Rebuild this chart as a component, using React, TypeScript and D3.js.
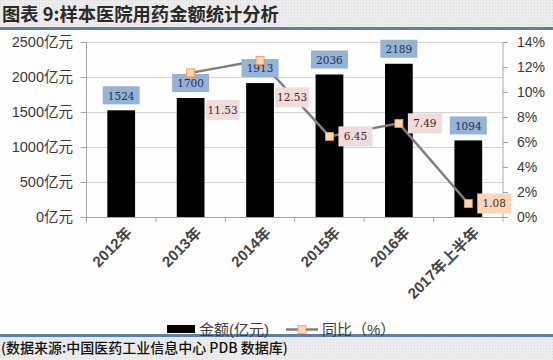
import React from "react";
import * as d3 from "d3";

const categories = ["2012年", "2013年", "2014年", "2015年", "2016年", "2017年上半年"];
const amounts = [1524, 1700, 1913, 2036, 2189, 1094];
const growth: (number | null)[] = [null, 11.53, 12.53, 6.45, 7.49, 1.08];
const leftTicks = [0, 500, 1000, 1500, 2000, 2500];
const rightTicks = [0, 2, 4, 6, 8, 10, 12, 14];
const growthLabelPlacement = ["right", "belowRight", "belowRight", "right", "right", "right"];
const growthLabelFill = ["#f2dcdb", "#f2dcdb", "#f2dcdb", "#f2dcdb", "#f2dcdb", "#fcd5b4"];

const W = 553, H = 360;
const M = { left: 86.5, right: 503, top: 42, bottom: 217 };
const CJK = "'Liberation Sans', 'Noto Sans CJK SC', sans-serif";

export default function App() {
  const x = d3.scaleBand<string>().domain(categories).range([M.left, M.right]).paddingInner(0.6).paddingOuter(0.3);
  const yL = d3.scaleLinear().domain([0, 2500]).range([M.bottom, M.top]);
  const yR = d3.scaleLinear().domain([0, 14]).range([M.bottom, M.top]);
  const cx = (c: string) => (x(c) ?? 0) + x.bandwidth() / 2;
  const step = x.step();
  const boundaries = d3.range(categories.length + 1).map((i) => M.left + i * step);

  const pts = categories
    .map((c, i) => ({ c, v: growth[i], i }))
    .filter((p) => p.v !== null) as { c: string; v: number; i: number }[];
  const line = d3.line<{ c: string; v: number }>().x((d) => cx(d.c)).y((d) => yR(d.v));

  return (
    <svg width={W} height={H} style={{ position: "absolute", left: 0, top: 0, background: "#fefefe" }}>
      <defs>
        <pattern id="dots" width="3" height="3" patternUnits="userSpaceOnUse">
          <rect width="3" height="3" fill="#ececec" />
          <rect width="1" height="1" fill="#dcdcdc" />
        </pattern>
      </defs>
      {/* header */}
      <rect x={0} y={0} width={W} height={27} fill="url(#dots)" />
      <text x={2} y={20.5} fontFamily="'Noto Sans CJK SC', sans-serif" fontWeight={700} fontSize={18.3} fill="#2a2a2a">
        图表 9:样本医院用药金额统计分析
      </text>
      <rect x={0} y={27} width={W} height={3} fill="#5b7fae" />
      {/* footer */}
      <rect x={0} y={335} width={W} height={25} fill="url(#dots)" />
      <rect x={0} y={334} width={W} height={3} fill="#5b7fae" />
      <text x={1} y={353} fontFamily="'Noto Sans CJK SC', sans-serif" fontSize={14} fontWeight={500} fill="#111">
        (数据来源:中国医药工业信息中心 PDB 数据库)
      </text>

      {/* grid */}
      {leftTicks.slice(1).map((t) => (
        <line key={t} x1={M.left} x2={M.right} y1={Math.round(yL(t)) + 0.5} y2={Math.round(yL(t)) + 0.5} stroke="#d4d4d4" />
      ))}
      {/* axes */}
      <line x1={M.left} x2={M.left} y1={M.top} y2={M.bottom} stroke="#a6a6a6" />
      <line x1={M.right} x2={M.right} y1={M.top} y2={M.bottom} stroke="#a6a6a6" />
      {leftTicks.map((t) => (
        <g key={t}>
          <line x1={M.left - 6} x2={M.left} y1={Math.round(yL(t)) + 0.5} y2={Math.round(yL(t)) + 0.5} stroke="#a6a6a6" />
          <text x={73} y={yL(t)} dy="0.35em" textAnchor="end" fontFamily={CJK} fontSize={14.5} fill="#3a3a3a">
            {t}亿元
          </text>
        </g>
      ))}
      {rightTicks.map((t) => (
        <g key={t}>
          <line x1={M.right} x2={M.right + 5} y1={Math.round(yR(t)) + 0.5} y2={Math.round(yR(t)) + 0.5} stroke="#a6a6a6" />
          <text x={517} y={yR(t)} dy="0.35em" fontFamily={CJK} fontSize={14} fill="#3a3a3a">
            {t}%
          </text>
        </g>
      ))}

      {/* bars */}
      {categories.map((c, i) => (
        <rect key={c} x={x(c)} y={yL(amounts[i])} width={x.bandwidth()} height={yL(0) - yL(amounts[i])} fill="#000" />
      ))}
      <line x1={M.left} x2={M.right} y1={M.bottom + 0.5} y2={M.bottom + 0.5} stroke="#a6a6a6" />
      {boundaries.map((b, i) => (
        <line key={i} x1={b} x2={b} y1={M.bottom} y2={M.bottom + 5} stroke="#a6a6a6" />
      ))}
      {categories.map((c) => (
        <text
          key={c}
          transform={`translate(${cx(c) + 8},${M.bottom + 13}) rotate(-45)`}
          textAnchor="end"
          dy="0.35em"
          fontFamily={CJK}
          fontWeight={700}
          fontSize={15}
          fill="#444"
        >
          {c}
        </text>
      ))}

      {/* line */}
      <path d={line(pts) ?? ""} fill="none" stroke="#7f7f7f" strokeWidth={2.5} />

      {/* bar labels */}
      {categories.map((c, i) => {
        const bx = cx(c);
        const by = yL(amounts[i]) - 6;
        return (
          <g key={c}>
            <rect x={bx - 18.5} y={by - 18} width={37} height={18} fill="#95b3d7" />
            <text x={bx} y={by - 8.5} dy="0.36em" textAnchor="middle" fontFamily="'DejaVu Serif', serif" fontSize={10.5} fill="#1f2f4f">
              {amounts[i]}
            </text>
          </g>
        );
      })}

      {pts.map((p) => (
        <rect key={p.c} x={cx(p.c) - 4} y={yR(p.v) - 4} width={8} height={8} fill="#fcd5b4" stroke="#f79646" strokeWidth={0.8} />
      ))}

      {pts.map((p) => {
        const mx = cx(p.c), my = yR(p.v);
        const below = growthLabelPlacement[p.i] === "belowRight";
        const lx = below ? mx + 15 : mx + 9;
        const ly = below ? my + 37 : my;
        const label = p.v.toFixed(2);
        const w = 34;
        return (
          <g key={p.c}>
            <rect x={lx} y={ly - 10} width={w} height={20} fill={growthLabelFill[p.i]} />
            <text x={lx + w / 2} y={ly} dy="0.36em" textAnchor="middle" fontFamily="'DejaVu Serif', serif" fontSize={10.5} fill="#3a2a2a">
              {label}
            </text>
          </g>
        );
      })}

      {/* legend */}
      <rect x={167} y={325} width={28} height={8} fill="#000" />
      <text x={199} y={330} dy="0.35em" fontFamily={CJK} fontSize={15} fill="#404040">
        金额(亿元)
      </text>
      <line x1={286} x2={318} y1={329.5} y2={329.5} stroke="#7f7f7f" strokeWidth={2.5} />
      <rect x={298} y={325.5} width={8} height={8} fill="#fcd5b4" stroke="#f79646" strokeWidth={0.8} />
      <text x={322} y={330} dy="0.35em" fontFamily={CJK} fontSize={15} fill="#404040">
        同比（%）
      </text>
    </svg>
  );
}
